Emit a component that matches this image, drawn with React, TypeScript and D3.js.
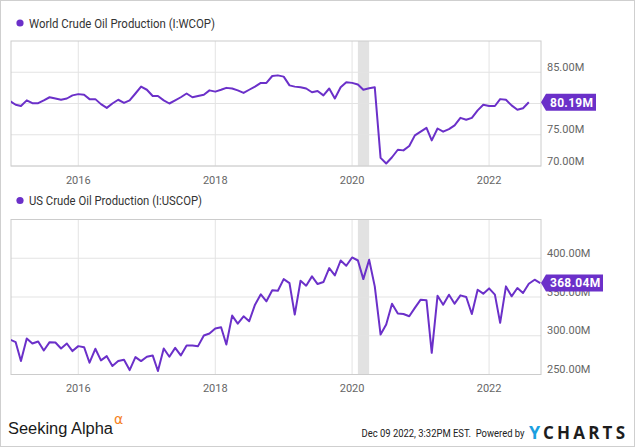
import React from "react";
import * as d3 from "d3";

// ---------- data ----------
const seriesStart = new Date(2015, 0, 1); // monthly points from Jan 2015

const worldValues = [
  80.4, 79.8, 79.6, 80.5, 80.05, 80.05, 80.5, 81.0, 80.8, 80.6, 80.8, 81.3,
  81.5, 81.4, 80.7, 80.7, 79.9, 79.3, 80.0, 80.6, 80.1, 80.5, 81.6, 82.7,
  82.2, 81.2, 81.2, 80.5, 80.0, 80.5, 81.0, 81.6, 81.0, 81.2, 81.4, 82.1,
  81.9, 82.2, 82.5, 82.4, 82.1, 81.7, 82.2, 82.7, 83.3, 83.3, 84.4, 84.5,
  84.3, 82.9, 82.7, 82.6, 82.4, 81.8, 82.0, 81.3, 82.4, 80.8, 82.6, 83.4,
  83.3, 83.05, 82.2, 82.45, 82.6, 71.3, 70.4, 71.4, 72.6, 72.5, 73.2, 74.9,
  75.5, 76.1, 74.1, 76.0, 75.5, 75.9, 76.5, 77.7, 77.4, 77.7, 78.9, 79.8,
  79.6, 79.6, 80.7, 80.6, 79.7, 79.0, 79.25, 80.19,
];

const usValues = [
  295.2, 291.7, 267.3, 296.4, 290.0, 292.6, 281.0, 291.7, 291.3, 283.6, 290.0, 280.2,
  286.6, 285.3, 265.2, 283.2, 268.2, 273.7, 260.9, 267.3, 269.0, 255.7, 272.5, 267.3,
  272.9, 274.6, 254.5, 283.6, 272.9, 284.4, 274.6, 287.4, 287.4, 286.6, 300.3, 302.9,
  309.3, 311.0, 288.7, 326.0, 315.7, 325.1, 318.7, 340.1, 353.4, 344.4, 358.6, 358.1,
  373.1, 368.0, 327.3, 371.0, 364.6, 376.6, 366.7, 369.3, 387.3, 377.8, 397.1, 390.3,
  401.0, 397.1, 373.1, 398.0, 363.7, 301.6, 314.4, 341.4, 328.6, 328.1, 325.1, 335.9,
  346.6, 345.7, 278.0, 351.7, 340.1, 353.0, 341.4, 352.1, 350.0, 328.1, 359.4, 354.3,
  361.1, 353.0, 316.6, 363.7, 350.9, 361.6, 355.1, 367.1, 372.3, 368.04,
];

const yearTicks = [2016, 2018, 2020, 2022];
const worldTicks = [70, 75, 80, 85];
const usTicks = [250, 300, 350, 400];
const worldDomain = [70, 90];
const usDomain = [250, 450];
const recessionBand = [new Date(2020, 1, 1), new Date(2020, 3, 1)];
const worldTitle = "World Crude Oil Production (I:WCOP)";
const usTitle = "US Crude Oil Production (I:USCOP)";
const worldBadge = "80.19M";
const usBadge = "368.04M";

// ---------- layout ----------
const W = 635;
const H = 447;
const PL = 11;
const PR = 541;
const LINE = "#6b30c9";
const GRID = "#e3e3e3";
const FRAME = "#cccccc";
const AXIS_TXT = "#666666";
const FONT = "Roboto, 'Noto Sans', sans-serif";

const x = d3
  .scaleTime()
  .domain([new Date(2015, 0, 7), new Date(2022, 9, 5)])
  .range([PL, PR]);

type PanelProps = {
  title: string;
  titleWidth: number;
  values: number[];
  domain: number[];
  ticks: number[];
  top: number;
  bottom: number;
  legendY: number;
  badge: string;
  clipId: string;
};

function Panel(p: PanelProps) {
  const y = d3.scaleLinear().domain(p.domain).range([p.bottom, p.top]);
  const pts = p.values.map((v, i) => ({ d: d3.timeMonth.offset(seriesStart, i), v }));
  const line = d3
    .line<{ d: Date; v: number }>()
    .x((e) => x(e.d))
    .y((e) => y(e.v));
  const last = pts[pts.length - 1];
  const yc = y(last.v);
  const bw = p.badge.length * 7 + 8;
  const bx = PR + 5;
  const fmt = (v: number) => v.toFixed(2) + "M";
  return (
    <g>
      <circle cx={20} cy={p.legendY - 4.5} r={3.6} fill={LINE} />
      <text
        x={29}
        y={p.legendY}
        fontFamily={FONT}
        fontSize={12}
        fill="#333"
        textLength={p.titleWidth}
        lengthAdjust="spacingAndGlyphs"
      >
        {p.title}
      </text>
      <defs>
        <clipPath id={p.clipId}>
          <rect x={PL} y={p.top} width={PR - PL} height={p.bottom - p.top} />
        </clipPath>
      </defs>
      <rect
        x={x(recessionBand[0])}
        y={p.top}
        width={x(recessionBand[1]) - x(recessionBand[0])}
        height={p.bottom - p.top}
        fill="#e2e2e2"
      />
      {p.ticks.map((t) => (
        <line key={"h" + t} x1={PL} x2={PR} y1={y(t)} y2={y(t)} stroke={GRID} strokeWidth={1} />
      ))}
      {yearTicks.map((yr) => {
        const xx = x(new Date(yr, 0, 1));
        return (
          <g key={"v" + yr}>
            <line x1={xx} x2={xx} y1={p.top} y2={p.bottom} stroke={GRID} strokeWidth={1} />
            <text
              x={xx}
              y={p.bottom + 17.5}
              textAnchor="middle"
              fontFamily={FONT}
              fontSize={11}
              fill={AXIS_TXT}
            >
              {yr}
            </text>
          </g>
        );
      })}
      <rect
        x={PL}
        y={p.top}
        width={PR - PL}
        height={p.bottom - p.top}
        fill="none"
        stroke={FRAME}
        strokeWidth={1}
      />
      <path
        d={line(pts) || ""}
        fill="none"
        stroke={LINE}
        strokeWidth={2}
        strokeLinejoin="round"
        clipPath={`url(#${p.clipId})`}
      />
      {p.ticks.map((t) => (
        <text
          key={"l" + t}
          x={547}
          y={y(t) - 1.5}
          fontFamily={FONT}
          fontSize={11}
          fill={AXIS_TXT}
        >
          {fmt(t)}
        </text>
      ))}
      <path
        d={`M${PR},${yc} L${bx},${yc - 8.5} L${bx + bw},${yc - 8.5} L${bx + bw},${yc + 8.5} L${bx},${yc + 8.5} Z`}
        fill={LINE}
      />
      <text
        x={bx + 4}
        y={yc + 4.3}
        fontFamily={FONT}
        fontSize={12}
        fontWeight="bold"
        fill="#ffffff"
        letterSpacing={0.3}
      >
        {p.badge}
      </text>
    </g>
  );
}

export default function App() {
  return (
    <svg
      width={W}
      height={H}
      viewBox={`0 0 ${W} ${H}`}
      style={{ position: "absolute", left: 0, top: 0, background: "#fff" }}
    >
      <rect x={0} y={0} width={W} height={H} fill="#fff" />
      <rect x={0.5} y={0.5} width={W - 1} height={H - 1} fill="none" stroke="#cfcfcf" strokeWidth={1} />
      <Panel
        title={worldTitle}
        titleWidth={186}
        values={worldValues}
        domain={worldDomain}
        ticks={worldTicks}
        top={41}
        bottom={166}
        legendY={27.5}
        badge={worldBadge}
        clipId="clipWorld"
      />
      <Panel
        title={usTitle}
        titleWidth={173}
        values={usValues}
        domain={usDomain}
        ticks={usTicks}
        top={219.5}
        bottom={374.5}
        legendY={205}
        badge={usBadge}
        clipId="clipUS"
      />
      {/* footer */}
      <text x={8} y={434} fontFamily="'Liberation Sans', Arial, sans-serif" fontSize={16} fill="#1a1a1a" textLength={105} lengthAdjust="spacingAndGlyphs">
        Seeking Alpha
      </text>
      <text x={114} y={424} fontFamily="'DejaVu Sans', sans-serif" fontSize={14} fill="#f5821f">
        α
      </text>
      <text
        x={361.5}
        y={436.5}
        fontFamily={FONT}
        fontSize={11.5}
        fill="#222"
        style={{ whiteSpace: "pre" }}
        textLength={163}
        lengthAdjust="spacingAndGlyphs"
      >
        {"Dec 09 2022, 3:32PM EST.  Powered by"}
      </text>
      <text x={529} y={439} fontFamily="'Open Sans', Roboto, sans-serif" fontSize={18} fontWeight="bold" fill="#1b9fe0">
        Y
      </text>
      <text
        x={543}
        y={439}
        fontFamily="'Open Sans', Roboto, sans-serif"
        fontSize={17}
        fontWeight="bold"
        fill="#1d1d1d"
        textLength={82}
        lengthAdjust="spacing"
      >
        CHARTS
      </text>
    </svg>
  );
}
